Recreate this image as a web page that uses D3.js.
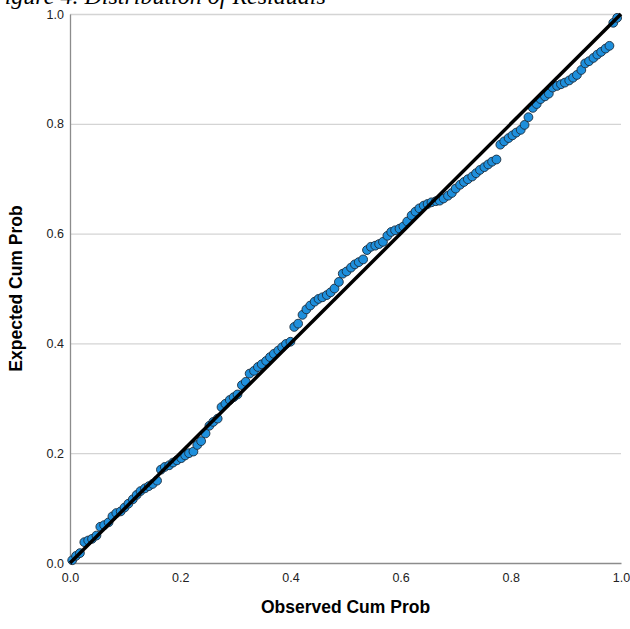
<!DOCTYPE html>
<html>
<head>
<meta charset="utf-8">
<script src="https://cdn.jsdelivr.net/npm/d3@7"></script>
<style>
  body { margin: 0; background: #fff; }
  svg { display: block; }
</style>
</head>
<body>
<div id="chart"></div>
<script>
// P-P plot: observed vs expected cumulative probability
const captionText = 'Figure 4. Distribution of Residuals';
const xTitle = 'Observed Cum Prob';
const yTitle = 'Expected Cum Prob';
const tickValues = [0, 0.2, 0.4, 0.6, 0.8, 1.0];
const refLine = [[0, 0], [1, 1]];

const observed = [
  0.004, 0.011, 0.018, 0.026, 0.033, 0.040, 0.048, 0.055, 0.062, 0.070,
  0.077, 0.084, 0.092, 0.099, 0.106, 0.114, 0.121, 0.128, 0.136, 0.143,
  0.150, 0.158, 0.165, 0.172, 0.180, 0.187, 0.194, 0.202, 0.209, 0.216,
  0.224, 0.231, 0.238, 0.246, 0.253, 0.260, 0.268, 0.275, 0.282, 0.290,
  0.297, 0.304, 0.312, 0.319, 0.326, 0.334, 0.341, 0.348, 0.356, 0.363,
  0.370, 0.378, 0.385, 0.392, 0.400, 0.407, 0.414, 0.422, 0.429, 0.436,
  0.444, 0.451, 0.458, 0.466, 0.473, 0.480, 0.488, 0.495, 0.502, 0.510,
  0.517, 0.524, 0.532, 0.539, 0.546, 0.554, 0.561, 0.568, 0.576, 0.583,
  0.590, 0.598, 0.605, 0.612, 0.620, 0.627, 0.634, 0.642, 0.649, 0.656,
  0.664, 0.671, 0.678, 0.686, 0.693, 0.700, 0.708, 0.715, 0.722, 0.730,
  0.737, 0.744, 0.752, 0.759, 0.766, 0.774, 0.781, 0.788, 0.796, 0.803,
  0.810, 0.818, 0.825, 0.832, 0.840, 0.847, 0.854, 0.862, 0.869, 0.876,
  0.884, 0.891, 0.898, 0.906, 0.913, 0.920, 0.928, 0.935, 0.942, 0.950,
  0.957, 0.964, 0.972, 0.979, 0.986, 0.993
];
const expected = [
  0.005, 0.013, 0.018, 0.038, 0.041, 0.044, 0.050, 0.066, 0.069, 0.074,
  0.085, 0.091, 0.094, 0.101, 0.108, 0.116, 0.124, 0.131, 0.136, 0.140,
  0.144, 0.150, 0.170, 0.175, 0.178, 0.183, 0.187, 0.191, 0.196, 0.200,
  0.203, 0.215, 0.222, 0.236, 0.250, 0.257, 0.263, 0.284, 0.290, 0.297,
  0.302, 0.307, 0.324, 0.330, 0.345, 0.350, 0.357, 0.362, 0.368, 0.375,
  0.381, 0.387, 0.393, 0.399, 0.403, 0.430, 0.436, 0.452, 0.462, 0.469,
  0.476, 0.481, 0.484, 0.488, 0.493, 0.500, 0.512, 0.527, 0.531, 0.538,
  0.544, 0.548, 0.553, 0.570, 0.576, 0.578, 0.581, 0.585, 0.596, 0.603,
  0.606, 0.609, 0.613, 0.622, 0.633, 0.640, 0.646, 0.651, 0.654, 0.657,
  0.659, 0.660, 0.664, 0.669, 0.674, 0.682, 0.689, 0.694, 0.699, 0.704,
  0.710, 0.716, 0.721, 0.726, 0.731, 0.735, 0.762, 0.768, 0.774, 0.779,
  0.784, 0.789, 0.798, 0.812, 0.829, 0.836, 0.845, 0.850, 0.855, 0.866,
  0.869, 0.872, 0.875, 0.879, 0.884, 0.889, 0.898, 0.910, 0.914, 0.920,
  0.926, 0.931, 0.937, 0.942, 0.984, 0.993
];

const data = observed.map((d, i) => ({ obs: d, exp: expected[i] }));

const width = 630, height = 629;
const margin = { top: 14, right: 9, bottom: 66, left: 70 };

const x = d3.scaleLinear().domain([0, 1]).range([margin.left, width - margin.right]);
const y = d3.scaleLinear().domain([0, 1]).range([height - margin.bottom, margin.top]);

const svg = d3.select('#chart').append('svg')
  .attr('width', width)
  .attr('height', height)
  .attr('viewBox', [0, 0, width, height]);

// caption of the page above, clipped by the top edge as in the source
svg.append('text')
  .attr('x', -10)
  .attr('y', 4)
  .attr('font-family', 'Liberation Serif, serif')
  .attr('font-style', 'italic')
  .attr('font-size', 24)
  .attr('fill', '#000')
  .text(captionText);

// horizontal gridlines
svg.append('g')
  .attr('transform', `translate(${margin.left},0)`)
  .call(d3.axisLeft(y).tickValues(tickValues.slice(1)).tickSize(-(width - margin.left - margin.right)).tickFormat(''))
  .call(g => g.select('.domain').remove())
  .call(g => g.selectAll('line').attr('stroke', '#d4d4d4').attr('stroke-width', 1.3));

// y axis
svg.append('g')
  .attr('transform', `translate(${margin.left},0)`)
  .call(d3.axisLeft(y).tickValues(tickValues).tickSize(0).tickPadding(6).tickFormat(d3.format('.1f')))
  .call(g => g.select('.domain').attr('stroke', '#8c8c8c').attr('stroke-width', 1.3))
  .call(g => g.selectAll('text').attr('font-family', 'Liberation Sans, Arial, sans-serif').attr('font-size', 12.5).attr('fill', '#222'));

// x axis
svg.append('g')
  .attr('transform', `translate(0,${height - margin.bottom})`)
  .call(d3.axisBottom(x).tickValues(tickValues).tickSize(0).tickPadding(10).tickFormat(d3.format('.1f')))
  .call(g => g.select('.domain').attr('stroke', '#8c8c8c').attr('stroke-width', 1.3))
  .call(g => g.selectAll('text').attr('font-family', 'Liberation Sans, Arial, sans-serif').attr('font-size', 12.5).attr('fill', '#222'));

// points
svg.append('g')
  .selectAll('circle')
  .data(data)
  .join('circle')
  .attr('cx', d => x(d.obs))
  .attr('cy', d => y(d.exp))
  .attr('r', 4.4)
  .attr('fill', '#1e8fdc')
  .attr('stroke', '#1c2c3c')
  .attr('stroke-width', 0.9);

// reference diagonal
svg.append('path')
  .datum(refLine)
  .attr('d', d3.line().x(d => x(d[0])).y(d => y(d[1])))
  .attr('stroke', '#000')
  .attr('stroke-width', 3.5)
  .attr('fill', 'none');

// axis titles
svg.append('text')
  .attr('x', (margin.left + width - margin.right) / 2)
  .attr('y', 613)
  .attr('text-anchor', 'middle')
  .attr('font-family', 'Liberation Sans, Arial, sans-serif')
  .attr('font-weight', 'bold')
  .attr('font-size', 17.5)
  .text(xTitle);

svg.append('text')
  .attr('transform', `translate(22,${(margin.top + height - margin.bottom) / 2}) rotate(-90)`)
  .attr('text-anchor', 'middle')
  .attr('font-family', 'Liberation Sans, Arial, sans-serif')
  .attr('font-weight', 'bold')
  .attr('font-size', 17.5)
  .text(yTitle);
</script>
</body>
</html>
